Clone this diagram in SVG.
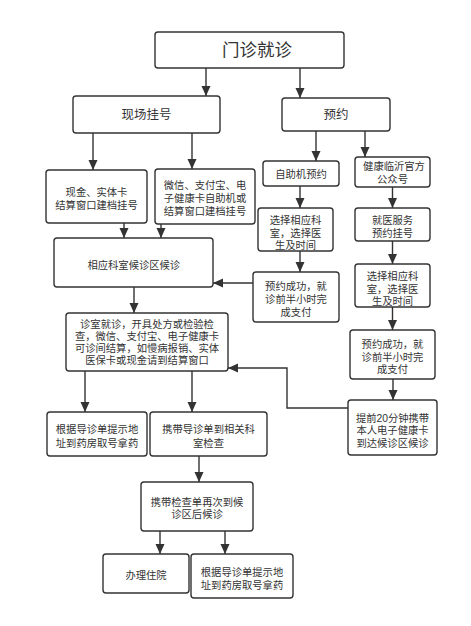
<svg xmlns="http://www.w3.org/2000/svg" width="471" height="626" viewBox="0 0 471 626">
<style>
.b{fill:#fff;stroke:#333;stroke-width:1.4}
.t{font-family:"Liberation Sans","Noto Sans CJK SC","Noto Sans CJK TC",sans-serif;font-size:10.3px;fill:#333;text-anchor:middle;dominant-baseline:central}
.c{fill:none;stroke:#333;stroke-width:1.4}
</style>
<defs>
<marker id="a" markerUnits="userSpaceOnUse" markerWidth="10" markerHeight="10" viewBox="0 0 10 10" refX="10" refY="5" orient="auto">
<path d="M0,0.5 L10,5 L0,9.5 Z" fill="#333"/>
</marker>
</defs>
<rect width="471" height="626" fill="#fff"/>
<g id="connectors">
<path class="c" marker-end="url(#a)" d="M206,68 V96"/>
<path class="c" marker-end="url(#a)" d="M300,68 V98"/>
<path class="c" marker-end="url(#a)" d="M93,133 V170"/>
<path class="c" marker-end="url(#a)" d="M192,133 V169"/>
<path class="c" marker-end="url(#a)" d="M316,131 V161"/>
<path class="c" marker-end="url(#a)" d="M365,131 V157"/>
<path class="c" marker-end="url(#a)" d="M124,223 V238"/>
<path class="c" marker-end="url(#a)" d="M161,224 V238"/>
<path class="c" marker-end="url(#a)" d="M300,186 V208"/>
<path class="c" marker-end="url(#a)" d="M392.5,187 V208"/>
<path class="c" marker-end="url(#a)" d="M300,251 V272"/>
<path class="c" marker-end="url(#a)" d="M392.5,241 V264"/>
<path class="c" marker-end="url(#a)" d="M392.5,307 V330"/>
<path class="c" marker-end="url(#a)" d="M393,379 V400"/>
<path class="c" marker-end="url(#a)" d="M253,283 H213"/>
<path class="c" marker-end="url(#a)" d="M134,287 V313"/>
<path class="c" marker-end="url(#a)" d="M348,408 H287 V368 H228"/>
<path class="c" marker-end="url(#a)" d="M85,371 V412"/>
<path class="c" marker-end="url(#a)" d="M192,371 V412"/>
<path class="c" marker-end="url(#a)" d="M199,456 V482"/>
<path class="c" marker-end="url(#a)" d="M160,531 V554"/>
<path class="c" marker-end="url(#a)" d="M225,531 V554"/>
</g>
<g id="n1"><rect class="b" x="155" y="32" width="189" height="36" rx="3"/><text class="t" x="257" y="50" style="font-size:17.5px">门诊就诊</text></g>
<g id="n2"><rect class="b" x="73" y="96" width="147" height="37" rx="3"/><text class="t" x="146.5" y="115" style="font-size:12.5px">现场挂号</text></g>
<g id="n3"><rect class="b" x="282" y="98" width="108" height="33" rx="3"/><text class="t" x="336" y="115" style="font-size:12.5px">预约</text></g>
<g id="n4"><rect class="b" x="46" y="170" width="101" height="53" rx="3"/><text class="t" y="192"><tspan x="96.5">现金、实体卡</tspan><tspan x="96.5" dy="13">结算窗口建档挂号</tspan></text></g>
<g id="n5"><rect class="b" x="155" y="169" width="100" height="55" rx="3"/><text class="t" y="185"><tspan x="205">微信、支付宝、电</tspan><tspan x="205" dy="13.2">子健康卡自助机或</tspan><tspan x="205" dy="13.2">结算窗口建档挂号</tspan></text></g>
<g id="n6"><rect class="b" x="54" y="238" width="159" height="49" rx="3"/><text class="t" x="133.8" y="265">相应科室候诊区候诊</text></g>
<g id="n7"><rect class="b" x="263" y="161" width="76" height="25" rx="3"/><text class="t" x="301" y="174">自助机预约</text></g>
<g id="n8"><rect class="b" x="355" y="157" width="75" height="30" rx="3"/><text class="t" y="166"><tspan x="394">健康临沂官方</tspan><tspan x="392.5" dy="13">公众号</tspan></text></g>
<g id="n9"><rect class="b" x="258" y="208" width="75" height="43" rx="3"/><text class="t" y="220"><tspan x="295.5">选择相应科</tspan><tspan x="295.5" dy="12.5">室，选择医</tspan><tspan x="295.5" dy="12.5">生及时间</tspan></text></g>
<g id="n10"><rect class="b" x="355" y="208" width="75" height="33" rx="3"/><text class="t" y="220"><tspan x="392.5">就医服务</tspan><tspan x="392.5" dy="12.5">预约挂号</tspan></text></g>
<g id="n11"><rect class="b" x="253" y="272" width="86" height="50" rx="3"/><text class="t" y="286"><tspan x="296">预约成功，就</tspan><tspan x="296" dy="12.8">诊前半小时完</tspan><tspan x="296" dy="12.8">成支付</tspan></text></g>
<g id="n12"><rect class="b" x="355" y="264" width="75" height="43" rx="3"/><text class="t" y="276"><tspan x="392.5">选择相应科</tspan><tspan x="392.5" dy="12.5">室，选择医</tspan><tspan x="392.5" dy="12.5">生及时间</tspan></text></g>
<g id="n13"><rect class="b" x="350" y="330" width="85" height="49" rx="3"/><text class="t" y="344"><tspan x="392.5">预约成功，就</tspan><tspan x="392.5" dy="12.5">诊前半小时完</tspan><tspan x="392.5" dy="12.5">成支付</tspan></text></g>
<g id="n14"><rect class="b" x="348" y="400" width="89" height="55" rx="3"/><text class="t" y="417.5"><tspan x="392.5">提前20分钟携带</tspan><tspan x="392.5" dy="12.5">本人电子健康卡</tspan><tspan x="392.5" dy="12.5">到达候诊区候诊</tspan></text></g>
<g id="n15"><rect class="b" x="66" y="313" width="162" height="58" rx="3"/><text class="t" y="323.5"><tspan x="147">诊室就诊，开具处方或检验检</tspan><tspan x="147" dy="12">查，微信、支付宝、电子健康卡</tspan><tspan x="147" dy="12">可诊间结算，如慢病报销、实体</tspan><tspan x="147" dy="12">医保卡或现金请到结算窗口</tspan></text></g>
<g id="n16"><rect class="b" x="47" y="412" width="100" height="44" rx="3"/><text class="t" y="429"><tspan x="97">根据导诊单提示地</tspan><tspan x="97" dy="13.5">址到药房取号拿药</tspan></text></g>
<g id="n17"><rect class="b" x="150" y="412" width="117" height="44" rx="3"/><text class="t" y="429"><tspan x="208.5">携带导诊单到相关科</tspan><tspan x="208.5" dy="13.5">室检查</tspan></text></g>
<g id="n18"><rect class="b" x="141" y="482" width="112" height="49" rx="3"/><text class="t" y="501.5"><tspan x="197">携带检查单再次到候</tspan><tspan x="197" dy="12.5">诊区后候诊</tspan></text></g>
<g id="n19"><rect class="b" x="103" y="554" width="86" height="39" rx="3"/><text class="t" x="146" y="575">办理住院</text></g>
<g id="n20"><rect class="b" x="191" y="554" width="102" height="44" rx="3"/><text class="t" y="571.5"><tspan x="242">根据导诊单提示地</tspan><tspan x="242" dy="13.5">址到药房取号拿药</tspan></text></g>
</svg>
